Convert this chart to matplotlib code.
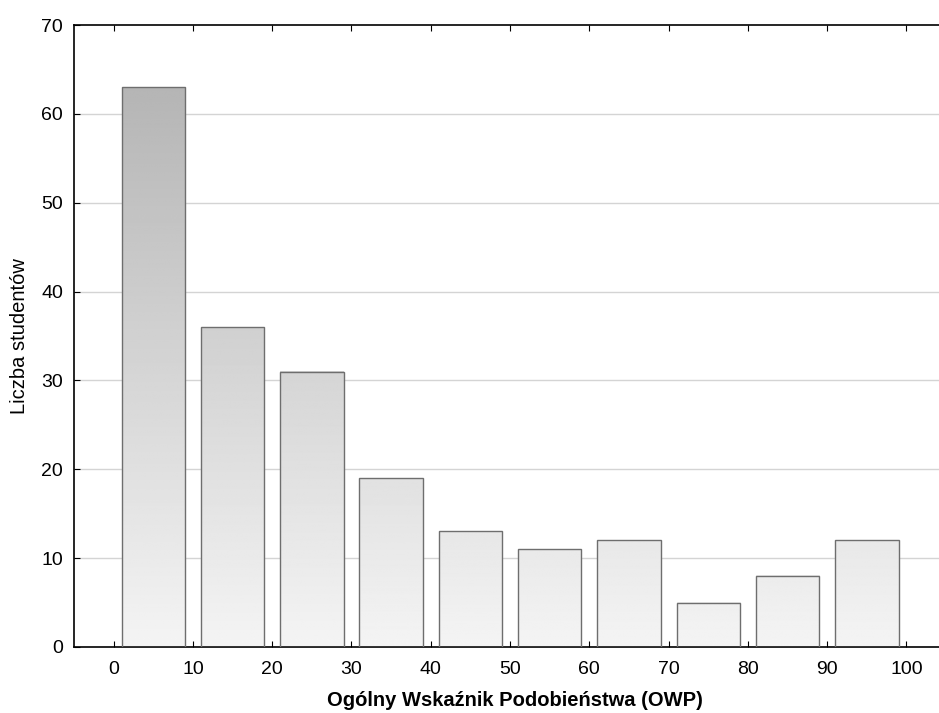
import numpy as np
import matplotlib.pyplot as plt

plt.rcParams['font.family'] = ['Liberation Sans', 'DejaVu Sans']

# ===============================
# Data
# ===============================
bin_centers = [5, 15, 25, 35, 45, 55, 65, 75, 85, 95]
counts = [63, 36, 31, 19, 13, 11, 12, 5, 8, 12]
x_ticks = [0, 10, 20, 30, 40, 50, 60, 70, 80, 90, 100]
y_ticks = [0, 10, 20, 30, 40, 50, 60, 70]

bar_width = 8

fig = plt.figure(figsize=(9.39, 7.13), dpi=100)
ax = fig.add_axes([0.0788, 0.0926, 0.9212, 0.8723])

# horizontal grid
for yv in y_ticks[1:-1]:
    ax.axhline(yv, color="#d4d4d4", linewidth=1, zorder=0)

# bars with vertical gradient (darker with height)
for xc, h in zip(bin_centers, counts):
    yy = np.linspace(h, 0, 200)
    shade = (244 - yy * 1.0) / 255.0
    img = np.repeat(shade[:, None], 2, axis=1)
    ax.imshow(img, cmap="gray", vmin=0, vmax=1, aspect="auto",
              extent=[xc - bar_width / 2, xc + bar_width / 2, 0, h],
              interpolation="bilinear", zorder=2)
    ax.bar(xc, h, width=bar_width, facecolor="none",
           edgecolor="#6e6e6e", linewidth=1, zorder=3)

ax.set_xlim(-5, 104.1)
ax.set_ylim(0, 70)

ax.set_xticks(x_ticks)
ax.set_yticks(y_ticks)
ax.tick_params(axis="x", direction="in", length=4, top=True, labelsize=14, pad=10)
ax.tick_params(axis="y", direction="in", length=4, labelsize=14, pad=8)

ax.spines["right"].set_visible(False)
for s in ["left", "bottom", "top"]:
    ax.spines[s].set_linewidth(1.2)

ax.set_xlabel("Ogólny Wskaźnik Podobieństwa (OWP)", fontsize=14.5,
              fontweight="bold", labelpad=9)
ax.xaxis.set_label_coords(0.51, -0.07)
ax.set_ylabel("Liczba studentów", fontsize=14.5, labelpad=9)

plt.savefig("out.png", dpi=100)
